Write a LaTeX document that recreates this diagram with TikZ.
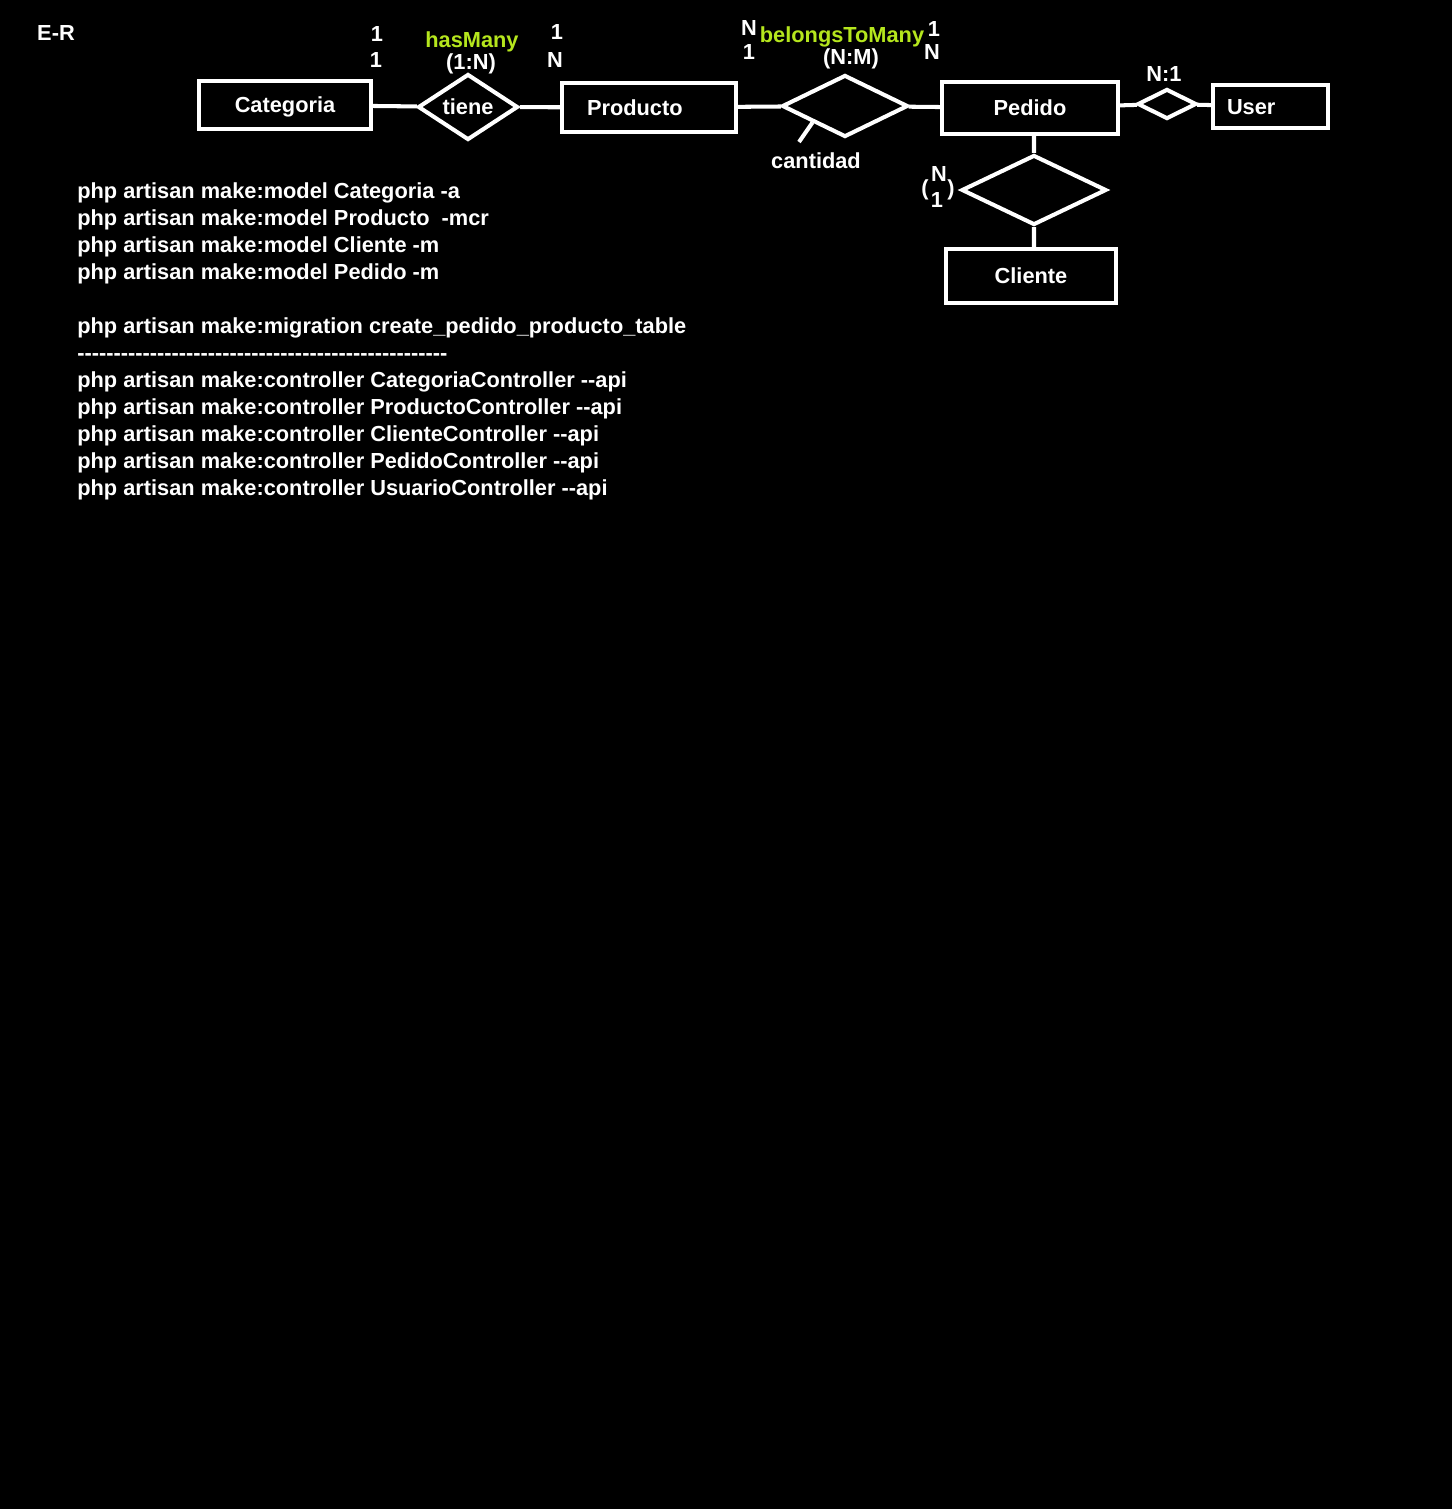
\documentclass[tikz,border=0pt]{standalone}
\usepackage{fontspec}
\newfontfamily\erfont{Liberation Sans}[Ligatures=TeXOff]
\usetikzlibrary{shapes.geometric}
\definecolor{lima}{RGB}{181,230,29}

\begin{document}
\begin{tikzpicture}[x=0.02cm,y=-0.02cm,%
  txt/.style={text=white,font=\erfont\bfseries\fontsize{12.4}{14}\selectfont,inner sep=0pt,text height=0.86em,text depth=0pt},
  ent/.style={txt,draw=white,line width=2.3pt},
  rel/.style={txt,draw=white,line width=2.3pt,diamond,inner sep=0pt},
  verde/.style={txt,text=lima},
  cmd/.style={txt,anchor=west},
  conn/.style={draw=white,line width=2.3pt}]
  \fill[black] (0,0) rectangle (1452,1509);
  \node[txt] (er) at (56,33) {E-R};
  % entidades y relaciones
  \node[ent,minimum width=3.44cm,minimum height=0.96cm] (cat) at (285,105) {Categoria};
  \node[rel,minimum width=2cm,minimum height=1.12cm] (tiene) at (468,107) {tiene};
  \node[ent,text width=2.48cm,align=left,inner xsep=0.5cm,minimum height=0.98cm] (prod) at (649,107.5) {Producto};
  \node[rel,minimum width=2.52cm,minimum height=1.24cm] (btm) at (845,106) {};
  \node[ent,minimum width=3.52cm,minimum height=1.04cm] (ped) at (1030,108) {Pedido};
  \node[rel,minimum width=1.18cm,minimum height=0.6cm] (pu) at (1167,104) {};
  \node[ent,text width=1.74cm,align=left,inner xsep=0.28cm,minimum height=0.86cm] (user) at (1270.5,106.5) {User};
  \node[rel,minimum width=2.9cm,minimum height=1.4cm] (pc) at (1034,190) {};
  \node[ent,minimum width=3.4cm,minimum height=1.08cm] (cli) at (1031,276) {Cliente};
  \node[txt] (cant) at (816,161) {cantidad};
  \coordinate (cantpt) at (799,142);
  \draw[conn] (cat) -- (tiene) (tiene) -- (prod) (prod) -- (btm) (btm) -- (ped)
    (ped) -- (pu) (pu) -- (user) (ped.south -| pc.north) -- (pc.north)
    (pc.south) -- (pc.south |- cli.north);
  \draw[conn] (btm.south west) -- (cantpt);
  % cardinalidades
  \node[txt] (c1a) at (377,34) {1};
  \node[txt] (c1b) at (376,60) {1};
  \node[verde] (hm) at (472,40) {hasMany};
  \node[txt] (hm1n) at (471,62) {(1:N)};
  \node[txt] (c2a) at (557,32) {1};
  \node[txt] (c2b) at (555,60) {N};
  \node[txt] (c3a) at (749,28) {N};
  \node[txt] (c3b) at (749,52) {1};
  \node[verde] (btmt) at (842,35) {belongsToMany};
  \node[txt] (nm) at (851,57) {(N:M)};
  \node[txt] (c4a) at (934,29) {1};
  \node[txt] (c4b) at (932,52) {N};
  \node[txt] (n1) at (1164,74) {N:1};
  \node[txt] (c5a) at (939,174) {N};
  \node[txt] (c5b) at (937,200) {1};
  \node[txt] (par1) at (925,188) {(};
  \node[txt] (par2) at (951,188) {)};
  % comandos
  \node[cmd] (m1) at (77,191) {php artisan make:model Categoria -a};
  \node[cmd] (m2) at (77,218) {php artisan make:model Producto~ -mcr};
  \node[cmd] (m3) at (77,245) {php artisan make:model Cliente -m};
  \node[cmd] (m4) at (77,272) {php artisan make:model Pedido -m};
  \node[cmd] (mg) at (77,326) {php artisan make:migration create\_pedido\_producto\_table};
  \node[cmd] (sep) at (77,353) {---------------------------------------------------};
  \node[cmd] (k1) at (77,380) {php artisan make:controller CategoriaController --api};
  \node[cmd] (k2) at (77,407) {php artisan make:controller ProductoController --api};
  \node[cmd] (k3) at (77,434) {php artisan make:controller ClienteController --api};
  \node[cmd] (k4) at (77,461) {php artisan make:controller PedidoController --api};
  \node[cmd] (k5) at (77,488) {php artisan make:controller UsuarioController --api};
\end{tikzpicture}
\end{document}
